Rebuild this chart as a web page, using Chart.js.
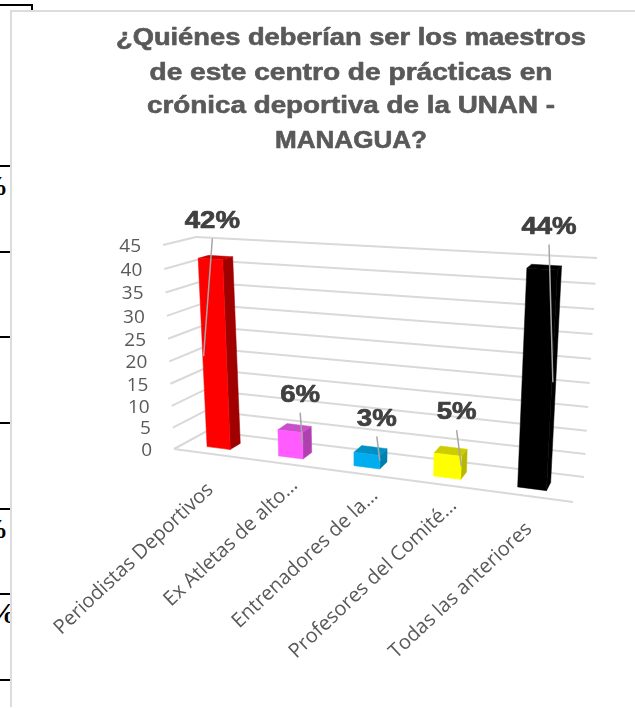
<!DOCTYPE html>
<html lang="es">
<head>
<meta charset="utf-8">
<title>Maestros del centro de prácticas</title>
<script src="https://cdn.jsdelivr.net/npm/chart.js@4"></script>
<style>
html,body{margin:0;padding:0;background:#fff;width:635px;height:708px;overflow:hidden;}
#stage{position:relative;width:635px;height:708px;overflow:hidden;}
canvas{position:absolute;left:0;top:0;}
.rule{position:absolute;background:#000;}
.frameV{position:absolute;left:10px;top:10px;width:2px;height:697px;background:#dcdcdc;}
.frameH{position:absolute;left:10px;top:10px;width:625px;height:2px;background:#dcdcdc;}
.clip{position:absolute;left:0;width:10px;height:34px;overflow:hidden;}
.clip span{position:absolute;font:bold 28px "Liberation Serif";color:#000;white-space:nowrap;top:0;}
</style>
</head>
<body>
<div id="stage">
  <div class="rule" style="left:0;top:4px;width:32px;height:2px"></div>
  <div class="rule" style="left:31px;top:4px;width:2px;height:7px"></div>
  <div class="rule" style="left:0;top:165px;width:10px;height:2px"></div>
  <div class="rule" style="left:0;top:251px;width:10px;height:2px"></div>
  <div class="rule" style="left:0;top:336px;width:10px;height:2px"></div>
  <div class="rule" style="left:0;top:422px;width:10px;height:2px"></div>
  <div class="rule" style="left:0;top:508px;width:10px;height:2px"></div>
  <div class="rule" style="left:0;top:593px;width:10px;height:2px"></div>
  <div class="rule" style="left:0;top:679px;width:10px;height:2px"></div>
  <div class="clip" style="top:170px"><span style="right:2px">%</span></div>
  <div class="clip" style="top:513px"><span style="right:2px">%</span></div>
  <div class="clip" style="top:596px"><span style="left:-13px;font-size:30px">%</span></div>
  <div class="frameV"></div>
  <div class="frameH"></div>
  <canvas id="chart" width="635" height="708"></canvas>
</div>
<script>
const titleLines = [
  "¿Quiénes deberían ser los maestros",
  "de este centro de prácticas en",
  "crónica deportiva de la UNAN -",
  "MANAGUA?"
];
const categories = [
  "Periodistas Deportivos",
  "Ex Atletas de alto…",
  "Entrenadores de la…",
  "Profesores del Comité…",
  "Todas las anteriores"
];
const values = [42, 6, 3, 5, 44];
const faceColors = ["#FF0000", "#FF5BFF", "#00AEEF", "#FFFF00", "#000000"];
const sideColors = ["#A00000", "#B040B0", "#0080B0", "#B8B800", "#000000"];
const topColors  = ["#C80000", "#C850C8", "#0090C4", "#CCCC00", "#000000"];
const labelShift = [[2,-39],[10,-37],[10,-36],[9,-43],[7,-43]];
const leaderShift = [-11,12,13,14,16];
const tickShift = [[1,33],[12,19],[15,19],[12,18],[1,30]];

/* Perspective frame of the 3-D plot box: [floor front-left, front-right, back-right, back-left] */
const FLOOR = [[174,449],[573,502],[584,477],[207,431]];
const CEIL  = [[163,245],[586,270],[597,258],[196,237]];
const U_PERSP = 0.873, V_PERSP = 0.94;
const BAR_W0 = 0.30, BAR_W1 = 0.63;
const TITLE_CENTER = 351, TITLE_WIDTHS = [470,403,408,152], TITLE_Y = [38.5,73.5,106.5,141.5];

const persp = (x,a) => a*x/(1+(a-1)*x);
const mix = (p,q,t) => [p[0]+(q[0]-p[0])*t, p[1]+(q[1]-p[1])*t];
function corner(q,s,w){ return mix(mix(q[0],q[1],s), mix(q[3],q[2],s), w); }
function project(u,v,w){
  return mix(corner(FLOOR,persp(u,U_PERSP),w), corner(CEIL,persp(u,U_PERSP),w), persp(v,V_PERSP));
}
function face(ctx,pts,color){
  ctx.beginPath();
  pts.forEach((p,i)=> i?ctx.lineTo(p[0],p[1]):ctx.moveTo(p[0],p[1]));
  ctx.closePath();
  ctx.fillStyle=color; ctx.strokeStyle=color; ctx.lineWidth=0.5;
  ctx.fill(); ctx.stroke();
}
function stretched(ctx,text,x,y,sx,heavy){
  ctx.save(); ctx.translate(x,y); ctx.scale(sx,1);
  ctx.strokeStyle=ctx.fillStyle; ctx.lineWidth=heavy; ctx.lineJoin="round";
  ctx.strokeText(text,0,0);
  ctx.fillText(text,0,0); ctx.restore();
}
const perspectivePlugin = {
  id:"perspective3d",
  beforeDatasetsDraw(chart){
    const {ctx,scales:{y},chartArea:a}=chart;
    const vOf = val => (a.bottom-y.getPixelForValue(val))/(a.bottom-a.top);
    ctx.save();
    ctx.strokeStyle="#D9D9D9"; ctx.lineWidth=2; ctx.lineCap="butt";
    const seg=(p,q)=>{ctx.beginPath();ctx.moveTo(p[0],p[1]);ctx.lineTo(q[0],q[1]);ctx.stroke();};
    y.ticks.forEach(t=>{
      const v=vOf(t.value);
      seg(project(0,v,0),project(0,v,1));
      seg(project(0,v,1),project(1,v,1));
    });
    seg(project(0,0,0),project(1,0,0));
    ctx.fillStyle="#595959"; ctx.font='19px "Open Sans"'; ctx.textAlign="right"; ctx.textBaseline="middle";
    y.ticks.forEach(t=>{
      const p=project(0,vOf(t.value),0);
      ctx.fillText(String(t.value),p[0]-22,p[1]+1.5);
    });
    ctx.fillStyle="#595959"; ctx.font='bold 23px "Liberation Sans"'; ctx.textAlign="center"; ctx.textBaseline="middle";
    titleLines.forEach((line,i)=>stretched(ctx,line,TITLE_CENTER,TITLE_Y[i],TITLE_WIDTHS[i]/ctx.measureText(line).width,0.6));
    ctx.restore();
  },
  afterDatasetsDraw(chart){
    const {ctx,scales:{x},chartArea:a}=chart;
    const meta=chart.getDatasetMeta(0);
    const W=a.right-a.left,H=a.bottom-a.top;
    ctx.save();
    meta.data.forEach((bar,i)=>{
      const u0=(bar.x-bar.width/2-a.left)/W,u1=(bar.x+bar.width/2-a.left)/W;
      const v=(a.bottom-bar.y)/H;
      face(ctx,[project(u1,0,BAR_W0),project(u1,0,BAR_W1),project(u1,v,BAR_W1),project(u1,v,BAR_W0)],sideColors[i]);
      face(ctx,[project(u0,v,BAR_W0),project(u1,v,BAR_W0),project(u1,v,BAR_W1),project(u0,v,BAR_W1)],topColors[i]);
      face(ctx,[project(u0,0,BAR_W0),project(u1,0,BAR_W0),project(u1,v,BAR_W0),project(u0,v,BAR_W0)],faceColors[i]);
    });
    meta.data.forEach((bar,i)=>{
      const uc=(bar.x-a.left)/W, v=(a.bottom-bar.y)/H;
      const top=project(uc,v,BAR_W0), mid=project(uc,v/2,BAR_W0);
      const lx=top[0]+labelShift[i][0], ly=top[1]+labelShift[i][1];
      ctx.strokeStyle="#A6A6A6"; ctx.lineWidth=1.5;
      ctx.beginPath(); ctx.moveTo(lx,ly+18.5); ctx.lineTo(mid[0]+leaderShift[i],mid[1]); ctx.stroke();
      ctx.fillStyle="#404040"; ctx.font='bold 24px "Liberation Sans"'; ctx.textAlign="center"; ctx.textBaseline="middle";
      stretched(ctx,values[i]+"%",lx,ly+1,1.15,0.7);
    });
    ctx.fillStyle="#595959"; ctx.font='20px "Open Sans"'; ctx.textAlign="right"; ctx.textBaseline="middle";
    categories.forEach((name,i)=>{
      const uc=(x.getPixelForValue(i)-a.left)/W;
      const p=project(uc,0,0);
      ctx.save();
      ctx.translate(p[0]+tickShift[i][0],p[1]+tickShift[i][1]);
      ctx.rotate(-Math.atan2(152,161));
      ctx.fillText(name,0,0);
      ctx.restore();
    });
    ctx.restore();
  }
};
new Chart(document.getElementById("chart"),{
  type:"bar",
  data:{labels:categories,datasets:[{data:values,backgroundColor:faceColors,barPercentage:0.33,categoryPercentage:1}]},
  options:{
    responsive:false,animation:false,
    plugins:{legend:{display:false},tooltip:{enabled:false},title:{display:false}},
    scales:{
      x:{display:false,type:"category",grid:{display:false},ticks:{autoSkip:false}},
      y:{display:false,min:0,max:45,ticks:{stepSize:5},grid:{display:false}}
    }
  },
  plugins:[perspectivePlugin,{id:"hideFlatBars",beforeDatasetDraw(){return false;}}]
});
</script>
</body>
</html>
